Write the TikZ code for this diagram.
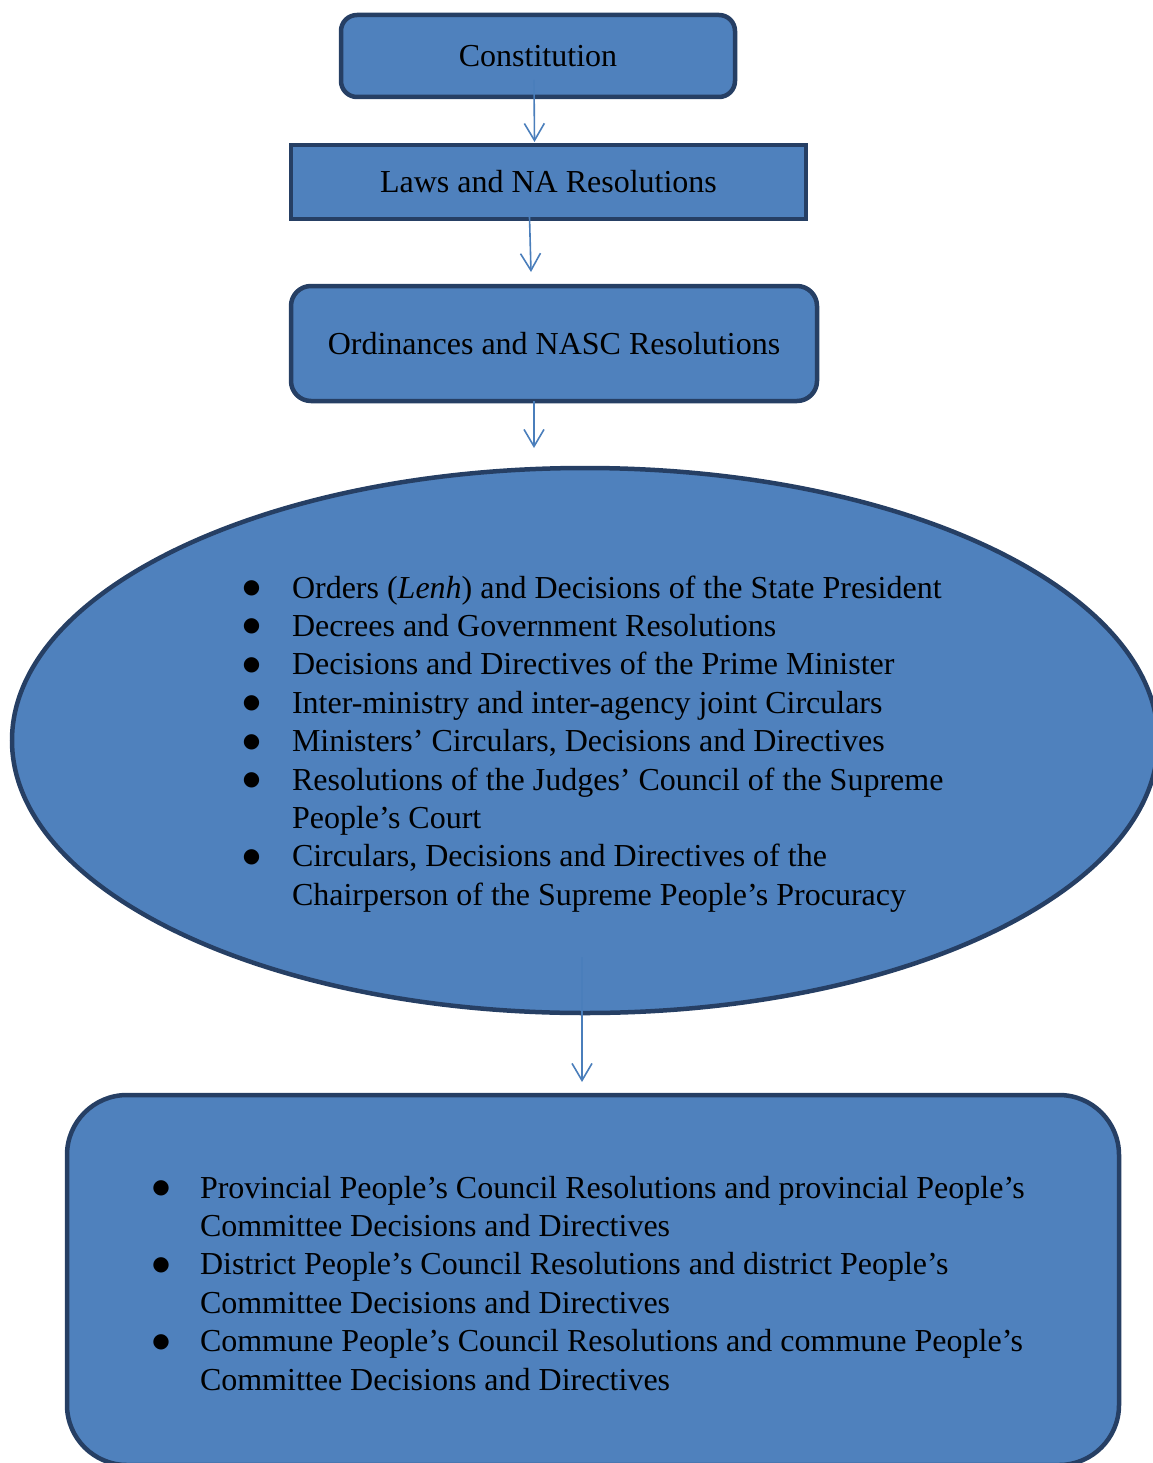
\documentclass[tikz,border=0pt]{standalone}
\usepackage{fontspec}
\setmainfont{Liberation Serif}
\newfontfamily\dejavu{DejaVu Sans}
\usetikzlibrary{shapes.geometric,arrows.meta,calc}
\definecolor{boxfill}{HTML}{4F81BD}
\definecolor{boxline}{HTML}{263F64}
\definecolor{arrowcol}{HTML}{4A7EBB}
\newlength{\bwa}\setlength{\bwa}{50.1pt}
\newlength{\bwb}\setlength{\bwb}{48.6pt}
\newcommand{\bigbul}{\hspace*{9.6pt}\makebox[0pt][c]{\raisebox{4.5pt}[0pt][0pt]{\dejavu\fontsize{20}{20}\selectfont ●}}}
\newcommand{\blta}{\makebox[\bwa][l]{\bigbul}}
\newcommand{\bltb}{\makebox[\bwb][l]{\bigbul}}
\begin{document}
\begin{tikzpicture}[x=1pt,y=-1pt,
  shapebase/.style={draw=boxline, fill=boxfill, line width=4.5pt, inner sep=0pt, outer sep=0pt,
    font={\fontsize{32}{38.4}\selectfont}},
  roundbox/.style={shapebase, rectangle, rounded corners=#1},
  sharpbox/.style={shapebase, rectangle},
  bigellipse/.style={shapebase, ellipse},
  listtext/.style={inner sep=0pt, outer sep=0pt, align=flush left, text width=#1,
    font={\fontsize{32}{38.4}\selectfont}},
  arr/.style={draw=arrowcol, line width=1.6pt, -{Straight Barb[length=17pt,width=20pt,line width=1.6pt]}}
]
\useasboundingbox (0,0) rectangle (1152,1463);

\node[roundbox=16pt, minimum width=394pt, minimum height=82pt] (C) at (538,56) {Constitution};
\node[sharpbox, minimum width=515pt, minimum height=74pt] (L) at (548.5,182) {Laws and NA Resolutions};
\node[roundbox=20pt, minimum width=526pt, minimum height=115pt] (O) at (554,343.5) {Ordinances and NASC Resolutions};
\node[bigellipse, minimum width=1146pt, minimum height=545pt] (E) at (585,740.5) {};
\node[roundbox=60pt, minimum width=1052pt, minimum height=370pt] (B) at (593,1280) {};

\node[listtext=760pt, anchor=base west] (EL) at (241.9,598) {%
\blta Orders (\textit{Lenh}) and Decisions of the State President\\
\blta Decrees and Government Resolutions\\
\blta Decisions and Directives of the Prime Minister\\
\blta Inter-ministry and inter-agency joint Circulars\\
\blta Ministers’ Circulars, Decisions and Directives\\
\blta Resolutions of the Judges’ Council of the Supreme\\
\hspace*{\bwa}People’s Court\\
\blta Circulars, Decisions and Directives of the\\
\hspace*{\bwa}Chairperson of the Supreme People’s Procuracy};

\node[listtext=930pt, anchor=base west] (BL) at (151.4,1198) {%
\bltb Provincial People’s Council Resolutions and provincial People’s\\
\hspace*{\bwb}Committee Decisions and Directives\\
\bltb District People’s Council Resolutions and district People’s\\
\hspace*{\bwb}Committee Decisions and Directives\\
\bltb Commune People’s Council Resolutions and commune People’s\\
\hspace*{\bwb}Committee Decisions and Directives};

\draw[arr] ($(C.south)+(-4,-17)$) -- ($(L.north)+(-14,-3)$);
\draw[arr] ($(L.south)+(-19,-2)$) -- ($(O.north)+(-23,-14)$);
\draw[arr] ($(O.south)+(-20,0)$) -- ($(E.north)+(-51,-20)$);
\draw[arr] ($(E.south)+(-3,-56)$) -- ($(B.north)+(-11,-13)$);
\end{tikzpicture}
\end{document}
